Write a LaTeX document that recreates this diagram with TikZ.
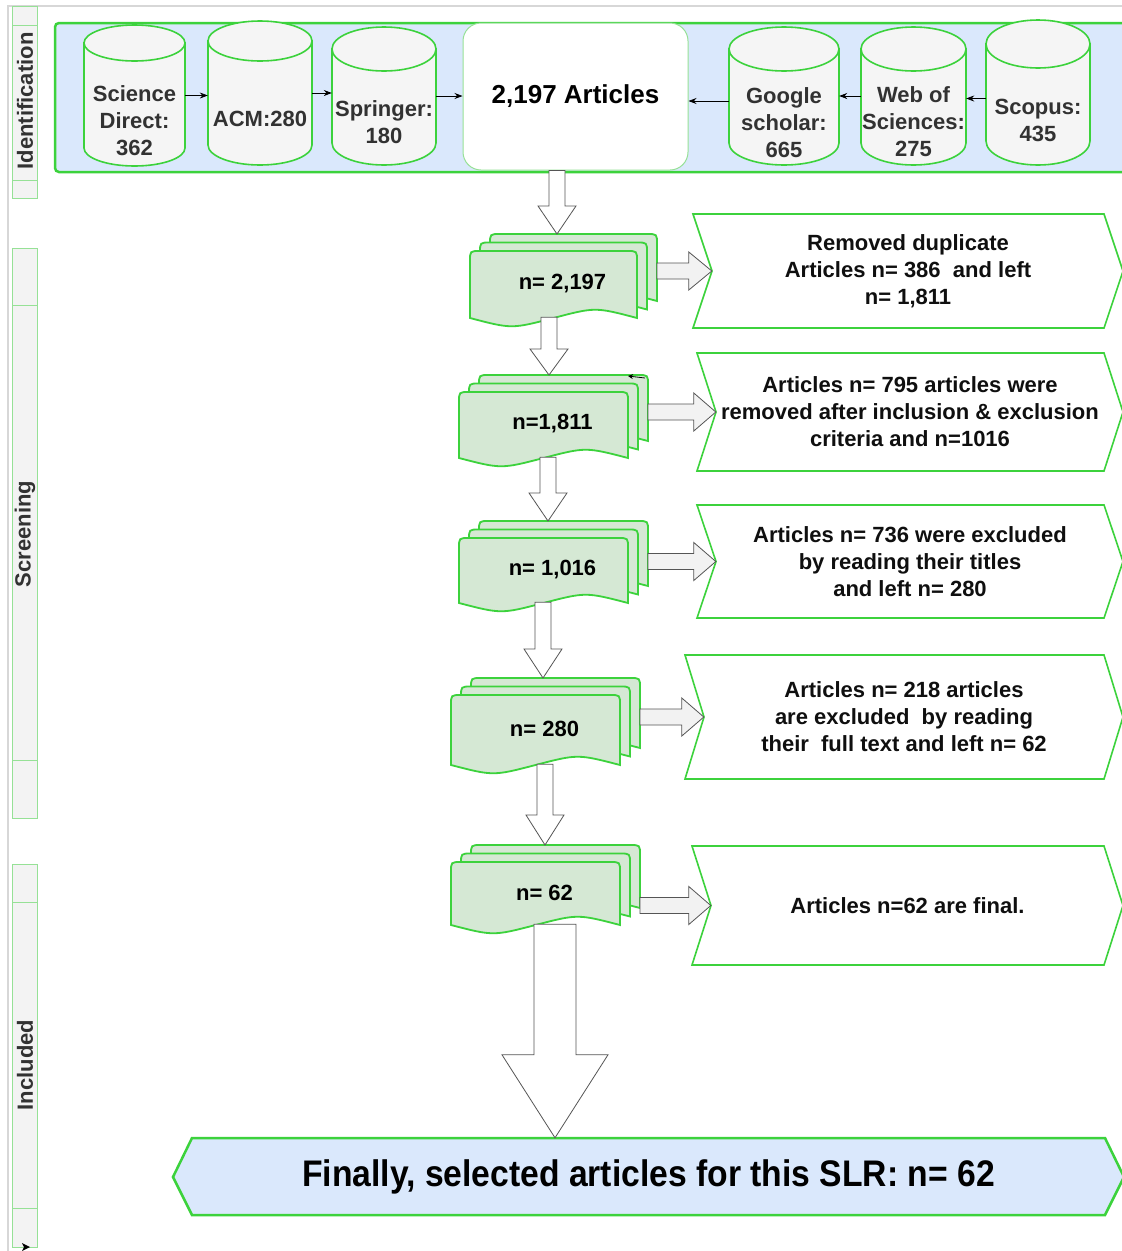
\documentclass[tikz,border=0pt]{standalone}
\usepackage{fontspec}
\setmainfont{Liberation Sans}
\newfontfamily\narrowfont[FakeStretch=0.91]{Liberation Sans}
\usetikzlibrary{calc,arrows.meta}
\definecolor{grn}{RGB}{60,210,60}
\definecolor{lgrn}{RGB}{150,225,150}
\definecolor{bandblue}{RGB}{218,232,252}
\definecolor{cylfill}{RGB}{245,245,245}
\definecolor{docfill}{RGB}{213,232,212}
\definecolor{lanefill}{RGB}{243,243,243}
\definecolor{framegray}{RGB}{215,215,215}
\definecolor{arrgray}{RGB}{85,85,85}
\definecolor{txt}{RGB}{15,15,15}
\definecolor{cyltxt}{RGB}{50,50,50}
\tikzset{
 lbl/.style={font=\bfseries\fontsize{22}{27}\selectfont, align=center, inner sep=0pt, text=txt},
 cyl/.style={draw=grn, line width=1.6pt, fill=cylfill},
 docpage/.style={draw=grn, line width=1.8pt, fill=docfill},
 barrow/.style={draw=arrgray, line width=0.8pt, fill=white},
 hbarrow/.style={draw=arrgray, line width=0.8pt, fill=gray!10},
 chevbox/.style={draw=grn, line width=1.6pt, fill=white},
 lanebox/.style={draw=lgrn, line width=1pt, fill=lanefill},
 thinarrow/.style={draw=black, line width=0.7pt, -{Stealth[length=8pt,width=6pt]}},
}
\newcommand\dbcyl[8]{%
 \pgfmathsetmacro\dbcx{(#2+#4)/2}\pgfmathsetmacro\dbrx{(#4-#2)/2}%
 \pgfmathsetmacro\dbya{#3+#6}\pgfmathsetmacro\dbyb{#5-#6}%
 \pgfmathsetmacro\dbkx{0.5523*\dbrx}\pgfmathsetmacro\dbky{0.5523*#6}%
 \path[cyl] (#2,\dbya) -- (#2,\dbyb) .. controls (#2,\dbyb+\dbky) and (\dbcx-\dbkx,#5) .. (\dbcx,#5) .. controls (\dbcx+\dbkx,#5) and (#4,\dbyb+\dbky) .. (#4,\dbyb) -- (#4,\dbya) -- cycle;
 \path[cyl] (\dbcx,\dbya) ellipse[x radius=\dbrx, y radius=#6];
 \node[inner sep=0pt, minimum width={(#4-#2)*1pt}, minimum height={(#5-#3)*1pt}] (#1) at (\dbcx,{(#3+#5)/2}) {};
 \node[lbl, text=cyltxt] (#1txt) at (\dbcx,#7) {#8};
}
\newcommand\docpage[4]{%
 \pgfmathsetmacro\dpL{#1}\pgfmathsetmacro\dpT{#2}\pgfmathsetmacro\dpR{#3}\pgfmathsetmacro\dpB{#4}%
 \pgfmathsetmacro\dpM{(\dpL+\dpR)/2}\pgfmathsetmacro\dpQa{\dpL+0.25*(\dpR-\dpL)}\pgfmathsetmacro\dpQb{\dpL+0.75*(\dpR-\dpL)}%
 \path[docpage] (\dpL,\dpB) -- (\dpL,\dpT+10) .. controls (\dpL,\dpT) .. (\dpL+10,\dpT) -- (\dpR-10,\dpT) .. controls (\dpR,\dpT) .. (\dpR,\dpT+10) -- (\dpR,\dpB) .. controls (\dpQb,\dpB-11) .. (\dpM,\dpB) .. controls (\dpQa,\dpB+11) .. (\dpL,\dpB) -- cycle;
}
\newcommand\docstack[6]{%
 \docpage{#2+20}{#3-17}{#4+20}{#5-17}%
 \docpage{#2+10}{#3-8.5}{#4+10}{#5-8.5}%
 \docpage{#2}{#3}{#4}{#5}%
 \node[lbl, text=black, minimum width={(#4-#2)*1pt}, minimum height={(#5-#3)*1pt}] (#1) at ({(#2+#4)/2+9},{(#3+#5)/2-1}) {#6};
 \coordinate (#1r) at ({#4+20},{(#3+#5)/2});
 \coordinate (#1t) at ({(#2+#4)/2},{#3-17});
}
\newcommand\chev[6]{%
 \path[chevbox] (#2,#3) -- (#4,#3) -- ({#4+19},{(#3+#5)/2}) -- (#4,#5) -- (#2,#5) -- ({#2+19},{(#3+#5)/2}) -- cycle;
 \node[lbl, minimum width={(#4-#2-19)*1pt}, minimum height={(#5-#3)*1pt}] (#1) at ({(#2+19+#4)/2},{(#3+#5)/2}) {#6};
}
% vertical block arrow: x, from, to, shaft half, head half, head length
\newcommand\varrow[6]{%
 \path[barrow] let \p1=(#2), \p2=(#3) in
 ({#1-#4},\y1) -- ({#1+#4},\y1) -- ({#1+#4},{\y2+#6pt}) -- ({#1+#5},{\y2+#6pt}) -- (#1,\y2) -- ({#1-#5},{\y2+#6pt}) -- ({#1-#4},{\y2+#6pt}) -- cycle;
}
% horizontal block arrow: from, to, shaft half, head half, head length
\newcommand\harrow[5]{%
 \path[hbarrow] let \p1=(#1), \p2=(#2) in
 (\x1,{\y2+#3pt}) -- ({\x2-#5pt},{\y2+#3pt}) -- ({\x2-#5pt},{\y2+#4pt}) -- (\x2,\y2) -- ({\x2-#5pt},{\y2-#4pt}) -- ({\x2-#5pt},{\y2-#3pt}) -- (\x1,{\y2-#3pt}) -- cycle;
}
\begin{document}
\begin{tikzpicture}[x=1pt,y=-1pt]
\useasboundingbox (0,0) rectangle (1122,1251);
\clip (0,0) rectangle (1122,1251);
\fill[white] (0,0) rectangle (1122,1251);
% frame
\draw[framegray, line width=1.5pt] (8,1251) -- (8,6) -- (1122,6);
% lanes
\path[lanebox] (12,6) rectangle (37,198);
\draw[lgrn, line width=1pt] (12,25) -- (37,25) (12,180) -- (37,180);
\node[lbl, text=cyltxt, rotate=90] (laneI) at (25,101) {Identification};
\path[lanebox] (12,248) rectangle (37,818);
\draw[lgrn, line width=1pt] (12,305) -- (37,305) (12,760) -- (37,760);
\node[lbl, text=cyltxt, rotate=90] (laneS) at (25,534) {Screening};
\path[lanebox] (12,864) rectangle (37,1247);
\draw[lgrn, line width=1pt] (12,902) -- (37,902) (12,1208) -- (37,1208);
\node[lbl, text=cyltxt, rotate=90] (laneC) at (25,1065) {Included};
\fill[black] (22,1243) -- (30,1247) -- (22,1251) -- (24,1247) -- cycle;
% band
\path[draw=grn, line width=2.5pt, fill=bandblue, rounded corners=4pt] (55,23) rectangle (1140,172);
% cylinders
\dbcyl{sd}{84}{25}{185}{166}{18}{121}{Science\\Direct:\\362}
\dbcyl{acm}{208}{21}{312}{165}{20}{119}{ACM:280}
\dbcyl{spr}{332}{27}{436}{165}{22}{122}{Springer:\\180}
\dbcyl{goo}{729}{27}{839}{165}{22}{123}{Google\\scholar:\\665}
\dbcyl{web}{861}{27}{966}{165}{22}{122}{Web of\\Sciences:\\275}
\dbcyl{sco}{986}{20}{1090}{165}{24}{120}{Scopus:\\435}
\node[lbl, text=black, font=\bfseries\fontsize{26}{30}\selectfont, draw=lgrn, line width=1pt, fill=white, rounded corners=18pt, minimum width=225pt, minimum height=147pt] (art) at (575.5,96.5) {2,197 Articles};
% thin arrows
\draw[thinarrow] (sd.east) -- (sd.east -| acm.west);
\draw[thinarrow] (acm.east) -- (acm.east -| spr.west);
\draw[thinarrow] (spr.east) -- (spr.east -| art.west);
\draw[thinarrow] ([yshift=-5pt]goo.west) -- ([yshift=-5pt]goo.west -| art.east);
\draw[thinarrow] (web.west) -- (web.west -| goo.east);
\draw[thinarrow] ([yshift=-6pt]sco.west) -- ([yshift=-6pt]sco.west -| web.east);
% stacks
\docstack{s1}{470}{251}{637}{318}{n= 2,197}
\docstack{s2}{459}{392}{628}{458}{n=1,811}
\docstack{s3}{459}{538}{628}{603}{n= 1,016}
\docstack{s4}{451}{695}{620}{765}{n= 280}
\docstack{s5}{451}{862}{620}{925}{n= 62}
\draw[line width=0.8pt, -{Stealth[length=5pt,width=5pt]}] (645,378) -- (628,376);
% chevrons
\chev{c1}{693}{214}{1104}{328}{Removed duplicate\\Articles n= 386\ \ and left\\n= 1,811}
\chev{c2}{697}{353}{1104}{471}{Articles n= 795 articles were\\removed after inclusion \& exclusion\\criteria and n=1016}
\chev{c3}{697}{505}{1104}{618}{Articles n= 736 were excluded\\by reading their titles\\and left n= 280}
\chev{c4}{685}{655}{1104}{779}{Articles n= 218 articles\\are excluded\ \ by reading\\their\ \ full text and left n= 62}
\chev{c5}{692}{846}{1104}{965}{Articles n=62 are final.}
% final
\path[draw=grn, line width=2.5pt, fill=bandblue] (192,1138) -- (1105,1138) -- (1124,1177) -- (1105,1215) -- (192,1215) -- (173,1177) -- cycle;
\node[lbl, text=black, font=\narrowfont\bfseries\fontsize{37}{40}\selectfont, minimum width=913pt, minimum height=77pt] (fin) at (648.5,1176.5) {Finally, selected articles for this SLR: n= 62};
% block arrows
\varrow{557}{art.south}{s1t}{8}{19}{28}
\varrow{549}{s1.south}{s2t}{8}{19}{26}
\varrow{548}{s2.south}{s3t}{8}{19}{28}
\varrow{543}{s3.south}{s4t}{8}{19}{29}
\varrow{545}{s4.south}{s5t}{8}{19}{30}
\varrow{555}{s5.south}{fin.north}{21}{53}{83}
\harrow{s1r}{c1.west}{8}{19}{23}
\harrow{s2r}{c2.west}{8}{19}{22}
\harrow{s3r}{c3.west}{8}{19}{22}
\harrow{s4r}{c4.west}{8}{19}{22}
\harrow{s5r}{c5.west}{8}{19}{22}
\end{tikzpicture}
\end{document}
